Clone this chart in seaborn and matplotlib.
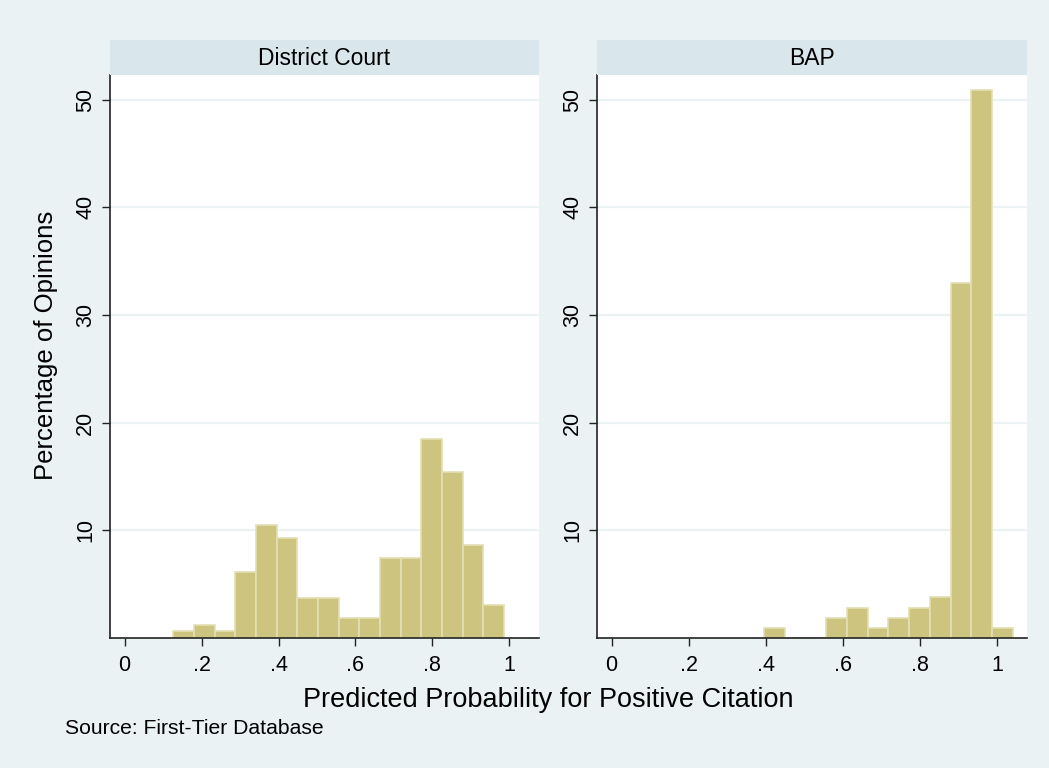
import numpy as np
import pandas as pd
import matplotlib
matplotlib.use("Agg")
import matplotlib.pyplot as plt
import seaborn as sns

# histogram bins (Stata style: start + width) and bar heights in percent
dc_start = 0.127
dc_width = 0.0537
dc_pct = [0.62, 1.23, 0.62, 6.17, 10.49, 9.26, 3.70, 3.70,
          1.85, 1.85, 7.41, 7.41, 18.52, 15.43, 8.64, 3.09]

bap_start = 0.395
bap_width = 0.0538
bap_pct = [0.94, 0, 0, 1.89, 2.83, 0.94, 1.89, 2.83, 3.77, 33.02, 50.94, 0.94]

panels = ["District Court", "BAP"]
xticks = [0, 0.2, 0.4, 0.6, 0.8, 1]
xticklabels = ["0", ".2", ".4", ".6", ".8", "1"]
yticks = [10, 20, 30, 40, 50]

bg = "#EAF2F3"
strip_col = "#D9E6EB"
bar_col = "#CCC47F"
bar_edge = "#E4DFB3"

sns.set_style("white")
plt.rcParams["font.family"] = ["Liberation Sans", "DejaVu Sans"]
plt.rcParams["text.color"] = "black"

fig = plt.figure(figsize=(10.49, 7.68), dpi=100, facecolor=bg)
W, H = 1049, 768

specs = [
    (panels[0], dc_start, dc_width, dc_pct, 110, 539),
    (panels[1], bap_start, bap_width, bap_pct, 597, 1027),
]

for name, start, width, pct, x0, x1 in specs:
    n = len(pct)
    centers = start + width * (np.arange(n) + 0.5)
    df = pd.DataFrame({"p": centers, "pct": pct})

    ax = fig.add_axes([x0 / W, (H - 638) / H, (x1 - x0) / W, (638 - 75) / H])
    ax.set_facecolor("white")
    for y in yticks:
        ax.axhline(y, color=bg, lw=1.6, zorder=0)
    sns.histplot(data=df, x="p", weights="pct", binwidth=width,
                 binrange=(start, start + width * n), ax=ax,
                 color=bar_col, edgecolor=bar_edge, linewidth=1.2, alpha=1,
                 zorder=2)
    ax.set_xlim(-0.038, 1.077)
    ax.set_ylim(0, 52.3)
    ax.set_xticks(xticks)
    ax.set_xticklabels(xticklabels)
    ax.set_yticks(yticks)
    ax.set_yticklabels([str(v) for v in yticks], rotation=90, va="center")
    ax.tick_params(axis="both", direction="out", length=6, width=1,
                   color="#222222", labelsize=15.5, labelcolor="black",
                   left=True, bottom=True)
    ax.tick_params(axis="y", pad=4)
    ax.tick_params(axis="x", pad=6)
    ax.set_xlabel("")
    ax.set_ylabel("")
    for s in ["top", "right"]:
        ax.spines[s].set_visible(False)
    for s in ["left", "bottom"]:
        ax.spines[s].set_color("#222222")
        ax.spines[s].set_linewidth(1.2)

    sax = fig.add_axes([x0 / W, (H - 75) / H, (x1 - x0) / W, 35 / H])
    sax.set_facecolor(strip_col)
    sax.set_xticks([])
    sax.set_yticks([])
    for s in sax.spines.values():
        s.set_visible(False)
    sax.text(0.5, 0.47, name, ha="center", va="center", fontsize=16.5,
             color="black", transform=sax.transAxes)

fig.text(46 / W, 1 - 345 / H, "Percentage of Opinions", rotation=90,
         ha="center", va="center", fontsize=18.5)
fig.text(548 / W, 1 - 700 / H, "Predicted Probability for Positive Citation",
         ha="center", va="center", fontsize=19.5)
fig.text(65 / W, 1 - 729 / H, "Source: First-Tier Database",
         ha="left", va="center", fontsize=15.2)

fig.savefig("out.png", dpi=100, facecolor=bg)
